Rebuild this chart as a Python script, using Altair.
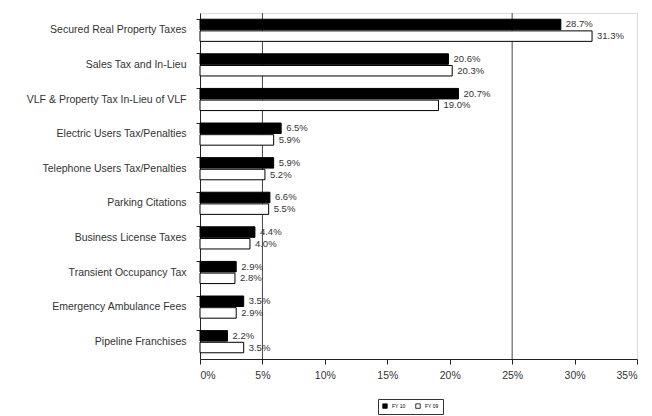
import altair as alt
import pandas as pd

categories = [
    "Secured Real Property Taxes",
    "Sales Tax and In-Lieu",
    "VLF & Property Tax In-Lieu of VLF",
    "Electric Users Tax/Penalties",
    "Telephone Users Tax/Penalties",
    "Parking Citations",
    "Business License Taxes",
    "Transient Occupancy Tax",
    "Emergency Ambulance Fees",
    "Pipeline Franchises",
]
fy10 = [28.9, 19.9, 20.7, 6.5, 5.9, 5.6, 4.4, 2.9, 3.5, 2.2]
fy09 = [31.4, 20.2, 19.1, 5.9, 5.2, 5.5, 4.0, 2.8, 2.9, 3.5]
fy10_labels = ["28.7%", "20.6%", "20.7%", "6.5%", "5.9%", "6.6%", "4.4%", "2.9%", "3.5%", "2.2%"]
fy09_labels = ["31.3%", "20.3%", "19.0%", "5.9%", "5.2%", "5.5%", "4.0%", "2.8%", "2.9%", "3.5%"]
series = ["FY 10", "FY 09"]
x_ticks = [0, 5, 10, 15, 20, 25, 30, 35]
grid_at = [5, 25]

rows = []
for c, a, b, la, lb in zip(categories, fy10, fy09, fy10_labels, fy09_labels):
    rows.append({"cat": c, "series": "FY 10", "value": a, "label": la})
    rows.append({"cat": c, "series": "FY 09", "value": b, "label": lb})
df = pd.DataFrame(rows)

FONT = "Liberation Sans"

y_enc = alt.Y("cat:N", sort=categories, title=None,
              scale=alt.Scale(paddingInner=0.36, paddingOuter=0.18),
              axis=alt.Axis(labelFontSize=10.5, labelColor="#333", labelFont=FONT,
                            tickColor="#222", tickSize=4, bandPosition=0,
                            domainColor="#222", labelPadding=10,
                            minExtent=192, maxExtent=192, labelLimit=190))
x_enc = alt.X("value:Q", title=None,
              scale=alt.Scale(domain=[0, 35], nice=False),
              axis=alt.Axis(values=x_ticks, labelExpr="datum.value + '%'",
                            labelFontSize=10.5, labelColor="#333", labelFont=FONT,
                            tickColor="#222", tickSize=5, domainColor="#222",
                            grid=False, labelPadding=6))
yoff = alt.YOffset("series:N", sort=series,
                   scale=alt.Scale(paddingInner=0.1))

bars = alt.Chart(df).mark_bar(stroke="black", strokeWidth=1).encode(
    y=y_enc, x=x_enc, yOffset=yoff,
    fill=alt.Fill("series:N", sort=series,
                  scale=alt.Scale(domain=series, range=["black", "white"]),
                  legend=alt.Legend(title=None, orient="none", direction="horizontal",
                                    legendX=178, legendY=386,
                                    symbolType="square", symbolSize=20,
                                    symbolStrokeColor="black", symbolStrokeWidth=0.8,
                                    labelFontSize=5, labelFont=FONT,
                                    strokeColor="#333", padding=4,
                                    columnPadding=8)),
)

texts = alt.Chart(df).mark_text(align="left", baseline="middle", dx=5,
                                fontSize=9.5, font=FONT, color="#333").encode(
    y=alt.Y("cat:N", sort=categories), x="value:Q", yOffset=yoff,
    text="label:N",
)

grid_df = pd.DataFrame({"g": grid_at})
grid = alt.Chart(grid_df).mark_rule(color="#444", strokeWidth=1).encode(x="g:Q")

chart = alt.layer(grid, bars, texts).properties(
    width=437, height=346, padding={"left": 0, "top": 4, "right": 5, "bottom": 5}
).configure_view(stroke="#222", strokeWidth=1.2).configure(background="white")

chart.save("out.html", embed_options={"renderer": "svg", "actions": False})
